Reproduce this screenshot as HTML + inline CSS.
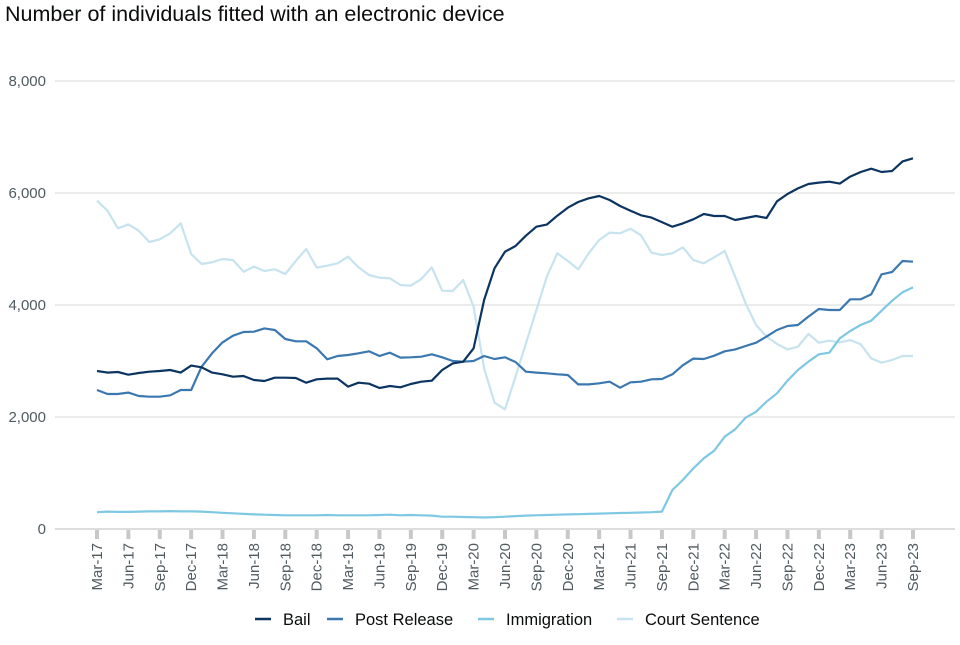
<!DOCTYPE html>
<html><head><meta charset="utf-8"><style>
body{margin:0;background:#fff;font-family:"Liberation Sans",sans-serif;}
svg text{font-family:"Liberation Sans",sans-serif;}
</style></head><body>
<svg id="chart" width="960" height="640" xmlns="http://www.w3.org/2000/svg">
<text x="5" y="21" font-size="21.5" fill="#0b0c0c">Number of individuals fitted with an electronic device</text>
<g id="grid"></g><g id="xaxis"></g><g id="series"></g><g id="legend"></g>
</svg>
<script>
const yTicks=[0,2000,4000,6000,8000];
const tickLabels=["Mar-17","Jun-17","Sep-17","Dec-17","Mar-18","Jun-18","Sep-18","Dec-18","Mar-19","Jun-19","Sep-19","Dec-19","Mar-20","Jun-20","Sep-20","Dec-20","Mar-21","Jun-21","Sep-21","Dec-21","Mar-22","Jun-22","Sep-22","Dec-22","Mar-23","Jun-23","Sep-23"];
const seriesNames=["Bail","Post Release","Immigration","Court Sentence"];
const seriesColors=["#0b3560","#3b78b0","#7ec8e3","#c6e3ef"];
const bail=[2821,2792,2804,2756,2786,2809,2821,2839,2792,2917,2887,2792,2762,2720,2732,2661,2643,2702,2702,2696,2613,2673,2685,2685,2542,2613,2595,2518,2554,2530,2589,2631,2649,2839,2958,2988,3226,4089,4655,4952,5054,5238,5399,5435,5595,5738,5839,5905,5946,5875,5768,5684,5601,5560,5480,5399,5458,5530,5625,5589,5589,5518,5554,5589,5554,5851,5982,6083,6160,6185,6202,6167,6292,6375,6434,6375,6393,6565,6619];
const postRelease=[2482,2411,2411,2435,2375,2363,2363,2387,2482,2482,2899,3137,3333,3452,3518,3524,3583,3554,3393,3351,3351,3226,3030,3089,3107,3137,3173,3089,3149,3060,3066,3077,3119,3066,3000,2988,3000,3089,3036,3066,2982,2809,2792,2780,2762,2750,2583,2583,2601,2631,2524,2619,2631,2673,2679,2762,2923,3042,3036,3095,3173,3208,3268,3327,3435,3554,3625,3643,3792,3929,3911,3911,4101,4101,4190,4548,4589,4786,4774];
const immigration=[300,310,305,305,310,315,315,320,315,315,310,300,290,280,270,260,255,250,245,245,245,245,250,245,245,245,245,250,255,245,250,245,240,220,220,215,210,205,210,220,230,240,245,250,255,260,265,270,275,280,285,290,295,300,310,696,875,1083,1262,1399,1649,1780,1988,2095,2274,2423,2649,2839,2988,3119,3149,3405,3536,3643,3720,3899,4077,4226,4315];
const courtSentence=[5863,5684,5369,5440,5327,5125,5173,5280,5458,4911,4732,4762,4821,4804,4595,4685,4607,4637,4554,4786,5000,4667,4702,4744,4863,4673,4536,4488,4476,4357,4345,4464,4673,4256,4250,4446,3970,2869,2256,2137,2720,3315,3911,4506,4923,4786,4637,4923,5161,5292,5280,5363,5244,4934,4893,4923,5030,4804,4744,4851,4964,4506,4030,3643,3435,3304,3208,3256,3482,3327,3363,3333,3375,3298,3048,2970,3018,3089,3089];
const allSeries=[bail,postRelease,immigration,courtSentence];

const NS="http://www.w3.org/2000/svg";
const X0=97,X1=913,Y0=529,Y1=81;
function xs(i){return X0+(X1-X0)*i/(bail.length-1);}
function ys(v){return Y0-(Y0-Y1)*v/8000;}
function mk(tag,attrs,parent){const e=document.createElementNS(NS,tag);for(const k in attrs)e.setAttribute(k,attrs[k]);parent.appendChild(e);return e;}
const grid=document.getElementById('grid');
yTicks.forEach(t=>{
  const l=mk('line',{x1:55,x2:955,y1:ys(t),y2:ys(t),stroke:t===0?'#bbb':'#d9d9d9','stroke-width':1},grid);
  
  
  const tx=mk('text',{x:46,y:ys(t)+5,'text-anchor':'end','font-size':15,fill:'#505a5f'},grid);
  tx.textContent=t.toLocaleString('en-US');
  
  
});
const xa=document.getElementById('xaxis');
tickLabels.forEach((lab,k)=>{
  const x=xs(k*3);
  const r=mk('rect',{x:x-2,y:530,width:4,height:9,fill:'#c8c8c8'},xa);
  
  
  const t=mk('text',{transform:`translate(${x+5},543) rotate(-90)`,'text-anchor':'end','font-size':15,fill:'#505a5f'},xa);
  t.textContent=lab;
  
  
});
const sg=document.getElementById('series');
[3,2,1,0].forEach(s=>{
  const d=allSeries[s].map((v,i)=>(i?'L':'M')+xs(i).toFixed(1)+','+ys(v).toFixed(1)).join('');
  const p=mk('path',{d:d,fill:'none',stroke:seriesColors[s],'stroke-width':2.2,'stroke-linejoin':'round'},sg);
  
  
});
const lg=document.getElementById('legend');
const lx=[255,327,478,617];
seriesNames.forEach((n,s)=>{
  const g=mk('g',{},lg);
  
  
  mk('line',{x1:lx[s],x2:lx[s]+16,y1:619,y2:619,stroke:seriesColors[s],'stroke-width':2.5},g);
  const t=mk('text',{x:lx[s]+28,y:625,'font-size':16.5,fill:'#0b0c0c'},g);
  t.textContent=n;
});
</script>
</body></html>
